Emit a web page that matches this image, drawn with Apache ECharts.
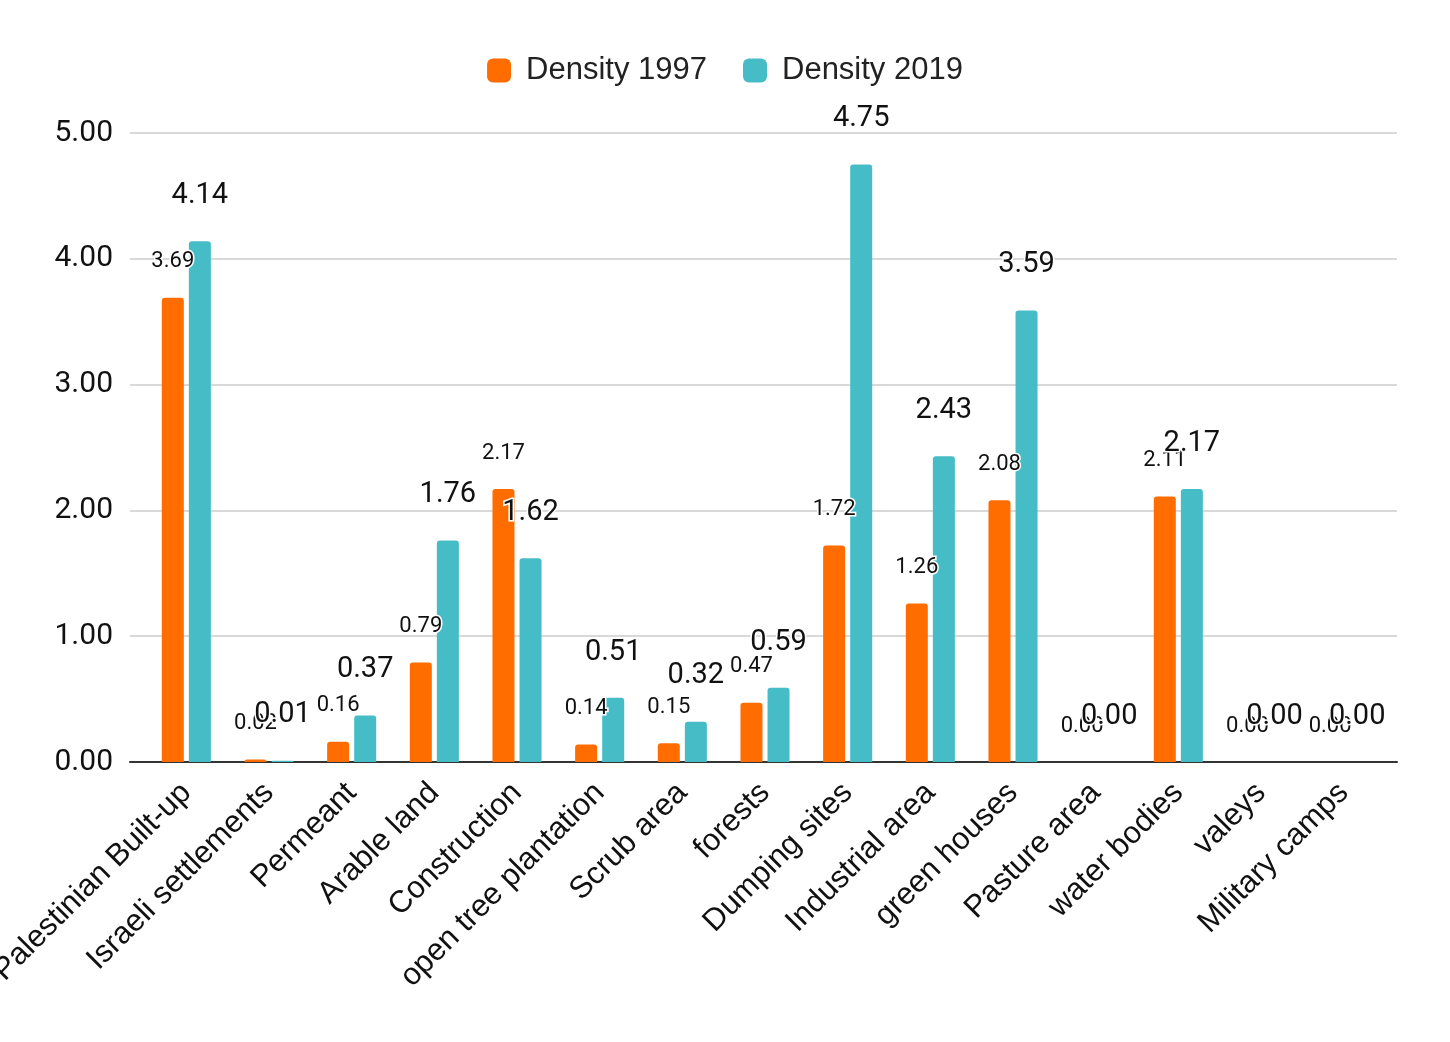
<!DOCTYPE html>
<html>
<head>
<meta charset="utf-8">
<script src="https://cdn.jsdelivr.net/npm/echarts@6/dist/echarts.min.js"></script>
<style>
html,body{margin:0;padding:0;background:#fff;}
#c{width:1450px;height:1042px;}
</style>
</head>
<body>
<div id="c"></div>
<script>
const categories = ["Palestinian Built-up","Israeli settlements","Permeant","Arable land","Construction","open tree plantation","Scrub area","forests","Dumping sites","Industrial area","green houses","Pasture area","water bodies","valeys","Military camps"];
const density1997 = [3.69,0.02,0.16,0.79,2.17,0.14,0.15,0.47,1.72,1.26,2.08,0.00,2.11,0.00,0.00];
const density2019 = [4.14,0.01,0.37,1.76,1.62,0.51,0.32,0.59,4.75,2.43,3.59,0.00,2.17,0.00,0.00];
const yTicks = [0,1,2,3,4,5];

const chart = echarts.init(document.getElementById('c'));
chart.setOption({
  animation:false,
  textStyle:{fontFamily:'Roboto'},
  legend:{
    top:50,left:'center',
    itemWidth:24,itemHeight:24,itemGap:36,
    icon:'roundRect',
    textStyle:{fontSize:31,color:'#222',fontFamily:'Liberation Sans',padding:[0,0,0,10]},
    data:['Density 1997','Density 2019']
  },
  grid:[
    {left:145,right:65,top:133,bottom:280,containLabel:false,outerBoundsMode:'none'},
    {left:130,right:53,top:133,bottom:280,containLabel:false,outerBoundsMode:'none'}
  ],
  xAxis:[
    {type:'category',data:categories,gridIndex:0,
     axisLine:{show:false},axisTick:{show:false},
     axisLabel:{rotate:45,fontSize:31,color:'#111',margin:26,interval:0,fontFamily:'Liberation Sans'}},
    {type:'category',data:categories,gridIndex:1,
     axisLine:{lineStyle:{color:'#333',width:2}},axisTick:{show:false},axisLabel:{show:false}}
  ],
  yAxis:[
    {type:'value',gridIndex:0,min:yTicks[0],max:yTicks[yTicks.length-1],interval:1,show:false,splitLine:{show:false}},
    {type:'value',gridIndex:1,min:yTicks[0],max:yTicks[yTicks.length-1],interval:1,
     axisLine:{show:false},axisTick:{show:false},
     splitLine:{lineStyle:{color:'#ccc',width:1.5}},
     axisLabel:{fontSize:30,color:'#111',margin:17,formatter:v=>v.toFixed(2),fontFamily:'Roboto'}}
  ],
  series:[
    {name:'Density 1997',type:'bar',data:density1997,xAxisIndex:0,yAxisIndex:0,
     barWidth:22,barGap:'23%',
     itemStyle:{color:'#ff6d01',borderRadius:[3,3,0,0]},
     label:{show:true,position:'top',distance:25,fontSize:22,color:'#111',
            textBorderColor:'#fff',textBorderWidth:3,formatter:p=>p.value.toFixed(2)}},
    {name:'Density 2019',type:'bar',data:density2019,xAxisIndex:0,yAxisIndex:0,
     barWidth:22,
     itemStyle:{color:'#46bdc6',borderRadius:[3,3,0,0]},
     label:{show:true,position:'top',distance:31,fontSize:29,color:'#111',
            textBorderColor:'#fff',textBorderWidth:3,formatter:p=>p.value.toFixed(2)}}
  ]
});
</script>
</body>
</html>
